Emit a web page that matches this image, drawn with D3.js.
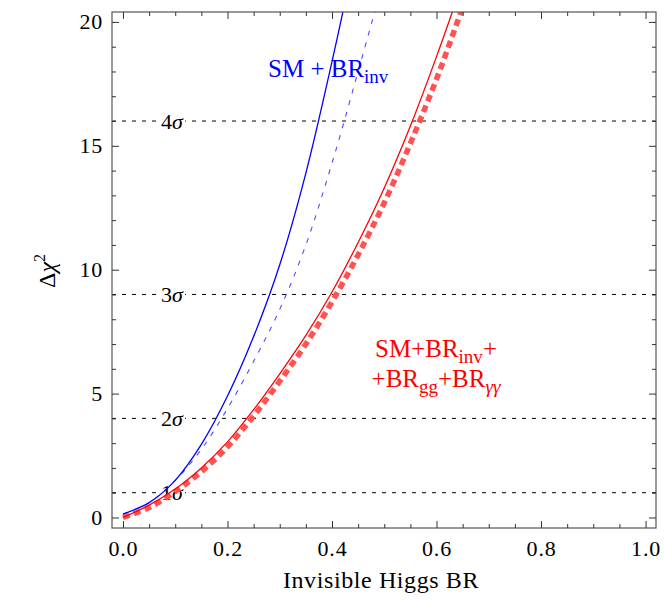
<!DOCTYPE html>
<html>
<head>
<meta charset="utf-8">
<script src="https://cdn.jsdelivr.net/npm/d3@7"></script>
<style>
  body { margin: 0; background: #fff; }
  svg { display: block; }
</style>
</head>
<body>
<svg id="chart" width="665" height="603"></svg>
<script>
// SM + BR_inv (solid blue)
const brBlue = [0, 0.05, 0.1, 0.15, 0.2, 0.25, 0.3, 0.35, 0.4, 0.43];
const chiBlue = [0.14, 0.6, 1.5, 2.95, 4.9, 7.3, 10.2, 13.9, 18.4, 21.3];
// SM + BR_inv (thin dashed blue)
const brBlueDash = [0, 0.05, 0.1, 0.15, 0.2, 0.25, 0.3, 0.35, 0.4, 0.45, 0.5];
const chiBlueDash = [0.14, 0.6, 1.5, 2.75, 4.4, 6.3, 8.4, 11.0, 14.3, 18.0, 21.8];
// SM + BR_inv + BR_gg + BR_γγ (solid red)
const brRed = [0, 0.05, 0.1, 0.15, 0.2, 0.25, 0.3, 0.35, 0.4, 0.45, 0.5, 0.55, 0.6, 0.65];
const chiRed = [0, 0.5, 1.15, 2.0, 3.05, 4.35, 5.8, 7.35, 9.1, 11.1, 13.3, 15.8, 18.6, 21.6];
// thick dashed red
const brRedDash = [0, 0.05, 0.1, 0.15, 0.2, 0.25, 0.3, 0.35, 0.4, 0.45, 0.5, 0.55, 0.6, 0.65, 0.7];
const chiRedDash = [0, 0.4, 1.05, 1.85, 2.85, 4.1, 5.5, 7.0, 8.7, 10.6, 12.7, 15.1, 17.7, 20.6, 23.6];

const sigmaLevels = [1, 4, 9, 16];
const sigmaLabels = ["1", "2", "3", "4"];
const xMajor = [0, 0.2, 0.4, 0.6, 0.8, 1.0];
const yMajor = [0, 5, 10, 15, 20];

const FONT = '"Liberation Serif"';

const svg = d3.select("#chart");
const width = 665, height = 603;
const margin = { top: 12, right: 9, bottom: 75, left: 112 };
const x0 = margin.left, x1 = width - margin.right;
const y0 = height - margin.bottom, y1 = margin.top;

const x = d3.scaleLinear().domain([-0.021, 1.02]).range([x0, x1]);
const y = d3.scaleLinear().domain([-0.424, 20.4]).range([y0, y1]);

svg.append("defs").append("clipPath").attr("id", "plot")
  .append("rect").attr("x", x0).attr("y", y1).attr("width", x1 - x0).attr("height", y0 - y1);

// sigma lines
svg.append("g")
  .selectAll("line")
  .data(sigmaLevels)
  .join("line")
  .attr("x1", x0).attr("x2", x1)
  .attr("y1", d => y(d)).attr("y2", d => y(d))
  .attr("stroke", "#000")
  .attr("stroke-width", 1)
  .attr("stroke-dasharray", "4,6");

// sigma labels with white background
const sig = svg.append("g");
sigmaLevels.forEach((lv, i) => {
  const g = sig.append("g");
  const t = g.append("text")
    .attr("x", 172).attr("y", y(lv)).attr("dy", "0.34em")
    .attr("text-anchor", "middle")
    .attr("font-family", FONT)
    .attr("font-size", 22);
  t.append("tspan").text(sigmaLabels[i]);
  t.append("tspan").attr("font-style", "italic").text("σ");
  const bb = t.node().getBBox();
  g.insert("rect", "text")
    .attr("x", bb.x - 1).attr("y", y(lv) - 2)
    .attr("width", bb.width + 2).attr("height", 4)
    .attr("fill", "#fff");
});

const line = d3.line()
  .x(d => x(d[0]))
  .y(d => y(d[1]))
  .curve(d3.curveCatmullRom.alpha(0.5));

const curves = svg.append("g").attr("clip-path", "url(#plot)");

curves.append("path")
  .attr("d", line(d3.zip(brRedDash, chiRedDash)))
  .attr("fill", "none")
  .attr("stroke", "#ff5252")
  .attr("stroke-width", 5.5)
  .attr("stroke-dasharray", "7,4.5");

curves.append("path")
  .attr("d", line(d3.zip(brRed, chiRed)))
  .attr("fill", "none")
  .attr("stroke", "#ff0000")
  .attr("stroke-width", 1.3);

curves.append("path")
  .attr("d", line(d3.zip(brBlueDash, chiBlueDash)))
  .attr("fill", "none")
  .attr("stroke", "#4d4dff")
  .attr("stroke-width", 1.1)
  .attr("stroke-dasharray", "5,7");

curves.append("path")
  .attr("d", line(d3.zip(brBlue, chiBlue)))
  .attr("fill", "none")
  .attr("stroke", "#0000ff")
  .attr("stroke-width", 1.3);

// frame
svg.append("rect")
  .attr("x", x0).attr("y", y1)
  .attr("width", x1 - x0).attr("height", y0 - y1)
  .attr("fill", "none")
  .attr("stroke", "#555")
  .attr("stroke-width", 1.2);

const xMinor = x.ticks(20).filter(v => !xMajor.some(m => Math.abs(m - v) < 1e-9));
const yMinor = y.ticks(20).filter(v => !yMajor.includes(v));

const styleAxis = g => {
  g.select(".domain").remove();
  g.selectAll("line").attr("stroke", "#333");
  g.attr("font-family", FONT).attr("font-size", 22);
  g.selectAll("text").attr("fill", "#000").style("letter-spacing", "0.8px");
};

// bottom
svg.append("g").attr("transform", `translate(0,${y0})`)
  .call(d3.axisBottom(x).tickValues(xMajor).tickSize(-7).tickPadding(12).tickFormat(d3.format(".1f")))
  .call(styleAxis);
svg.append("g").attr("transform", `translate(0,${y0})`)
  .call(d3.axisBottom(x).tickValues(xMinor).tickSize(-4).tickFormat(""))
  .call(styleAxis);
// top
svg.append("g").attr("transform", `translate(0,${y1})`)
  .call(d3.axisTop(x).tickValues(xMajor).tickSize(-7).tickFormat(""))
  .call(styleAxis);
svg.append("g").attr("transform", `translate(0,${y1})`)
  .call(d3.axisTop(x).tickValues(xMinor).tickSize(-4).tickFormat(""))
  .call(styleAxis);
// left
svg.append("g").attr("transform", `translate(${x0},0)`)
  .call(d3.axisLeft(y).tickValues(yMajor).tickSize(-7).tickPadding(9))
  .call(styleAxis);
svg.append("g").attr("transform", `translate(${x0},0)`)
  .call(d3.axisLeft(y).tickValues(yMinor).tickSize(-4).tickFormat(""))
  .call(styleAxis);
// right
svg.append("g").attr("transform", `translate(${x1},0)`)
  .call(d3.axisRight(y).tickValues(yMajor).tickSize(-7).tickFormat(""))
  .call(styleAxis);
svg.append("g").attr("transform", `translate(${x1},0)`)
  .call(d3.axisRight(y).tickValues(yMinor).tickSize(-4).tickFormat(""))
  .call(styleAxis);

// axis titles
svg.append("text")
  .attr("x", 381).attr("y", 588)
  .attr("text-anchor", "middle")
  .attr("font-family", FONT)
  .attr("font-size", 24)
  .style("letter-spacing", "0.6px")
  .text("Invisible Higgs BR");

const yt = svg.append("text")
  .attr("transform", "translate(55,271) rotate(-90)")
  .attr("text-anchor", "middle")
  .attr("font-family", FONT)
  .attr("font-size", 24);
yt.append("tspan").text("Δ");
yt.append("tspan").attr("font-style", "italic").text("χ");
yt.append("tspan").attr("font-size", 16).attr("dy", -10).text("2");

// curve labels
const bl = svg.append("text")
  .attr("x", 268).attr("y", 77)
  .attr("fill", "#0000ff")
  .attr("font-family", FONT)
  .attr("font-size", 25);
bl.append("tspan").text("SM + BR");
bl.append("tspan").attr("font-size", 19).attr("dy", 6).text("inv");

const r1 = svg.append("text")
  .attr("x", 436).attr("y", 357)
  .attr("text-anchor", "middle")
  .attr("fill", "#ff0000")
  .attr("font-family", FONT)
  .attr("font-size", 25);
r1.append("tspan").text("SM+BR");
r1.append("tspan").attr("font-size", 19).attr("dy", 6).text("inv");
r1.append("tspan").attr("dy", -6).text("+");

const r2 = svg.append("text")
  .attr("x", 436).attr("y", 387)
  .attr("text-anchor", "middle")
  .attr("fill", "#ff0000")
  .attr("font-family", FONT)
  .attr("font-size", 25);
r2.append("tspan").text("+BR");
r2.append("tspan").attr("font-size", 19).attr("dy", 6).text("gg");
r2.append("tspan").attr("dy", -6).text("+BR");
r2.append("tspan").attr("font-size", 19).attr("dy", 6).attr("font-style", "italic").text("γγ");
</script>
</body>
</html>
